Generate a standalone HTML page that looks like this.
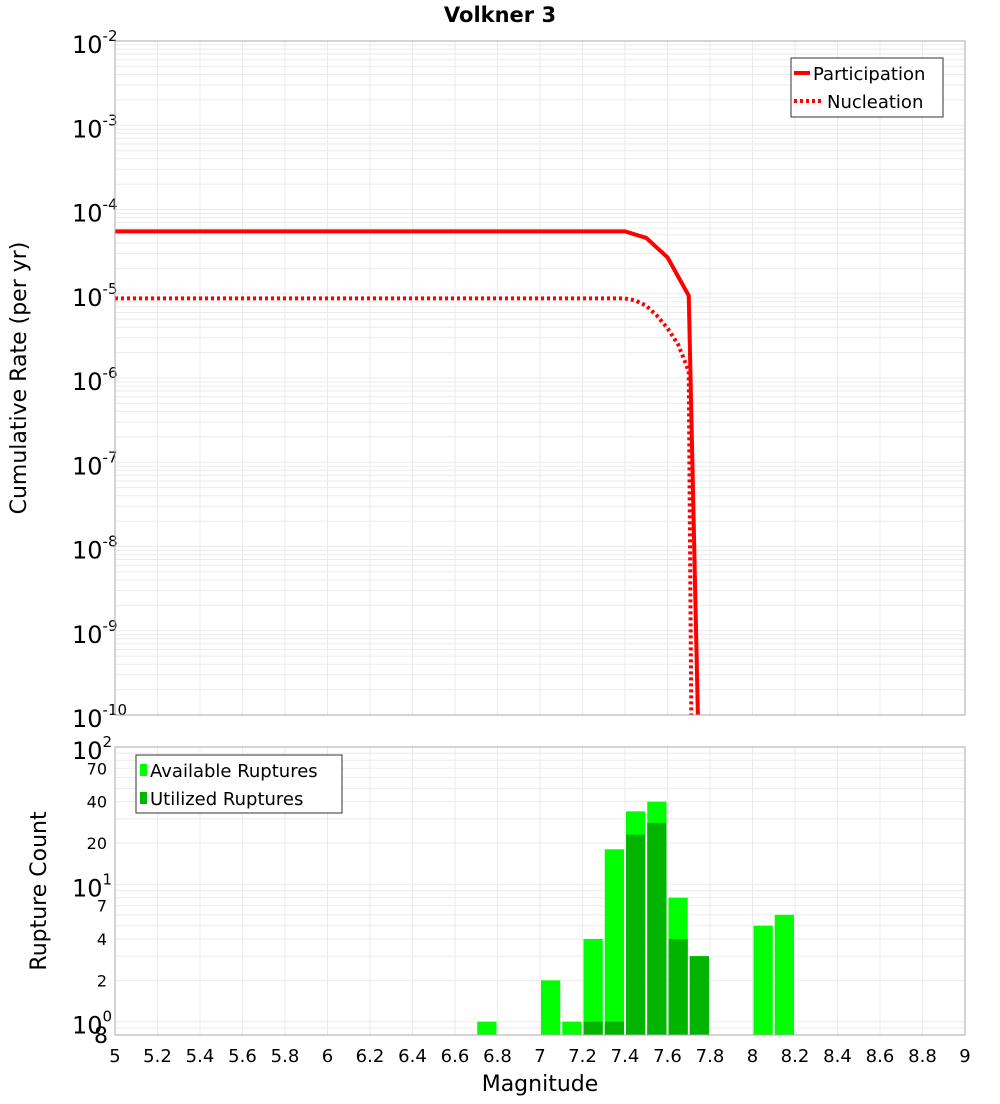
<!DOCTYPE html>
<html><head><meta charset="utf-8"><style>
body{margin:0;background:#fff;font-family:"DejaVu Sans","Liberation Sans",sans-serif}
</style></head><body>
<svg id="c" width="1000" height="1100" xmlns="http://www.w3.org/2000/svg" font-family="DejaVu Sans, Liberation Sans, sans-serif">
<text x="500" y="22" text-anchor="middle" font-size="21" font-weight="bold">Volkner 3</text>
<g id="topG"></g>
<g id="botG"></g>
<text transform="translate(26,378) rotate(-90)" text-anchor="middle" font-size="22">Cumulative Rate (per yr)</text>
<text transform="translate(46,891) rotate(-90)" text-anchor="middle" font-size="22">Rupture Count</text>
<text x="540" y="1091" text-anchor="middle" font-size="22">Magnitude</text>
</svg>
<script>
const partMags=[5,7.4,7.5,7.6,7.7,7.743];
const partRates=[5.5e-5,5.5e-5,4.6e-5,2.7e-5,9.5e-6,1e-10];
const nuclMags=[5,7.4,7.45,7.5,7.55,7.6,7.65,7.7,7.712];
const nuclRates=[8.8e-6,8.8e-6,8.3e-6,7.2e-6,5.5e-6,3.9e-6,2.5e-6,1.2e-6,1e-10];
const binCenters=[6.75,7.05,7.15,7.25,7.35,7.45,7.55,7.65,7.75,8.05,8.15];
const availCounts=[1,2,1,4,18,34,40,8,3,5,6];
const utilCounts=[0,0,0,1,1,23,28,4,3,0,0];
const xTicks=[5,5.2,5.4,5.6,5.8,6,6.2,6.4,6.6,6.8,7,7.2,7.4,7.6,7.8,8,8.2,8.4,8.6,8.8,9];
const NS="http://www.w3.org/2000/svg";
const X0=115,X1=965;
const x=m=>X0+(m-5)/4*(X1-X0);
const T0=41,T1=715;
const yT=v=>T0+(-2-Math.log10(v))/8*(T1-T0);
const B0=747,B1=1035,bmin=Math.log10(0.8);
const yB=v=>B0+(2-Math.log10(v))/(2-bmin)*(B1-B0);
function mk(p,t,a){const e=document.createElementNS(NS,t);for(const k in a)e.setAttribute(k,a[k]);p.appendChild(e);return e;}
const topG=document.getElementById('topG'),botG=document.getElementById('botG');
for(let d=-10;d<-2;d++)for(let k=1;k<10;k++){const v=k*Math.pow(10,d);const g=mk(topG,'line',{x1:X0,x2:X1,y1:yT(v),y2:yT(v),stroke:'#ebebeb'});

}
xTicks.forEach(t=>{const g=mk(topG,'line',{x1:x(t),x2:x(t),y1:T0,y2:T1,stroke:'#ebebeb'});


const h=mk(botG,'line',{x1:x(t),x2:x(t),y1:B0,y2:B1,stroke:'#ebebeb'});


const tx=mk(botG,'text',{x:x(t),y:1062,'text-anchor':'middle','font-size':18});tx.textContent=String(t);

});
for(let d=-2;d>=-10;d--){const y=yT(Math.pow(10,d));const t=mk(topG,'text',{x:72,y:y+12,'font-size':24});t.innerHTML='10<tspan dy="-12" font-size="15">'+d+'</tspan>';

}
const pts=(ms,vs)=>ms.map((m,i)=>x(m)+','+Math.min(yT(vs[i]),T1)).join(' ');
const pl=mk(topG,'polyline',{points:pts(partMags,partRates),fill:'none',stroke:'#f00','stroke-width':4});


const nl=mk(topG,'polyline',{points:pts(nuclMags,nuclRates),fill:'none',stroke:'#f00','stroke-width':4,'stroke-dasharray':'3,3'});


const tb=mk(topG,'rect',{x:X0,y:T0,width:X1-X0,height:T1-T0,fill:'none',stroke:'#aaa'});


const lg=mk(topG,'g',{});


mk(lg,'rect',{x:791,y:58,width:152,height:59,fill:'#fff',stroke:'#333'});
mk(lg,'line',{x1:794,x2:810,y1:73,y2:73,stroke:'#f00','stroke-width':4});
mk(lg,'line',{x1:794,x2:822,y1:101,y2:101,stroke:'#f00','stroke-width':4,'stroke-dasharray':'3,3'});
let t1=mk(lg,'text',{x:813,y:80,'font-size':18});t1.textContent='Participation';
let t2=mk(lg,'text',{x:827,y:108,'font-size':18});t2.textContent='Nucleation';
for(let d=-1;d<2;d++)for(let k=1;k<10;k++){const v=k*Math.pow(10,d);if(v<0.8)continue;const g=mk(botG,'line',{x1:X0,x2:X1,y1:yB(v),y2:yB(v),stroke:'#ebebeb'});

}
[[100,'2'],[10,'1'],[1,'0']].forEach(([v,e])=>{const t=mk(botG,'text',{x:72,y:yB(v)+12,'font-size':24});t.innerHTML='10<tspan dy="-12" font-size="15">'+e+'</tspan>';

});
[70,40,20,7,4,2,0.8].forEach(v=>{const t=mk(botG,'text',{x:v<1?108:107,y:yB(v)+(v<1?8:6),'font-size':v<1?22:16,'text-anchor':'end'});t.textContent=String(v<1?8:v);

});
binCenters.forEach((m,i)=>{const r=mk(botG,'rect',{x:x(m-0.05)+1,y:yB(availCounts[i]),width:x(m+0.05)-x(m-0.05)-2,height:B1-yB(availCounts[i]),fill:'#00ff00'});


if(utilCounts[i]>0){const u=mk(botG,'rect',{x:x(m-0.05)+1,y:yB(utilCounts[i]),width:x(m+0.05)-x(m-0.05)-2,height:B1-yB(utilCounts[i]),fill:'#00b400'});

}});
const bb=mk(botG,'rect',{x:X0,y:B0,width:X1-X0,height:B1-B0,fill:'none',stroke:'#aaa'});


const lb=mk(botG,'g',{});


mk(lb,'rect',{x:136,y:755,width:206,height:58,fill:'#fff',stroke:'#333'});
mk(lb,'rect',{x:140,y:764,width:7,height:12,fill:'#00ff00'});
mk(lb,'rect',{x:140,y:792,width:7,height:12,fill:'#00b400'});
let t3=mk(lb,'text',{x:150,y:777,'font-size':18});t3.textContent='Available Ruptures';
let t4=mk(lb,'text',{x:150,y:805,'font-size':18});t4.textContent='Utilized Ruptures';
</script>
</body></html>
